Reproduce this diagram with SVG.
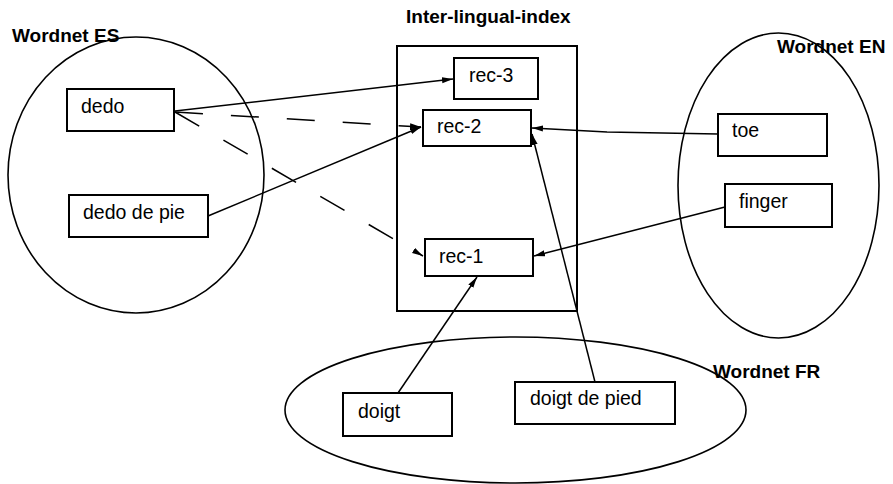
<svg xmlns="http://www.w3.org/2000/svg" width="893" height="484" viewBox="0 0 893 484">
<defs>
<marker id="arr" viewBox="0 0 11 7" refX="11" refY="3.5" markerWidth="11" markerHeight="7" markerUnits="userSpaceOnUse" orient="auto">
<path d="M0,0.5 L11,3.5 L0,6.5 z" fill="#000"/>
</marker>
<style>
.group{fill:none;stroke:#000;stroke-width:1.6}
.box{fill:#fff;stroke:#000;stroke-width:2}
.lbl{font-family:"Liberation Sans",Arial,sans-serif;font-size:19.5px;fill:#000}
.title{font-family:"Liberation Sans",Arial,sans-serif;font-size:19px;font-weight:bold;fill:#000}
.c{fill:none;stroke:#000;stroke-width:1.5;marker-end:url(#arr)}
.d{stroke-dasharray:28 28}
</style>
</defs>
<rect width="893" height="484" fill="#fff"/>
<g id="wordnet-es">
<text class="title" x="12" y="42">Wordnet ES</text>
<ellipse class="group" cx="136" cy="175" rx="128" ry="138"/>
</g>
<g id="wordnet-en">
<text class="title" x="777" y="53">Wordnet EN</text>
<ellipse class="group" cx="778.5" cy="185.5" rx="100.5" ry="152.5"/>
</g>
<g id="wordnet-fr">
<text class="title" x="713" y="378">Wordnet FR</text>
<ellipse class="group" cx="515.5" cy="410" rx="230.5" ry="73"/>
</g>
<g id="ili">
<text class="title" x="406" y="23">Inter-lingual-index</text>
<rect class="group" x="397" y="46" width="180" height="265" style="stroke-width:2"/>
</g>
<g id="connectors">
<line class="c" x1="175" y1="111" x2="453" y2="79"/>
<line class="c d" x1="175" y1="112" x2="421" y2="127"/>
<line class="c d" x1="175" y1="112" x2="423" y2="256"/>
<line class="c" x1="208" y1="216" x2="421" y2="127"/>
<polyline class="c" points="718,134 607,132 532,128"/>
<line class="c" x1="725" y1="207" x2="534" y2="256"/>
<line class="c" x1="595" y1="382" x2="532" y2="134"/>
<line class="c" x1="398" y1="393" x2="477" y2="277"/>
</g>
<g id="dedo"><rect class="box" x="67" y="89" width="107" height="42"/><text class="lbl" x="81" y="113">dedo</text></g>
<g id="dedo-de-pie"><rect class="box" x="69" y="195" width="139" height="42"/><text class="lbl" x="83" y="219">dedo de pie</text></g>
<g id="rec-3"><rect class="box" x="454" y="58" width="84" height="41"/><text class="lbl" x="469" y="82">rec-3</text></g>
<g id="rec-2"><rect class="box" x="423" y="110" width="108" height="36"/><text class="lbl" x="437" y="133">rec-2</text></g>
<g id="rec-1"><rect class="box" x="425" y="239" width="108" height="37"/><text class="lbl" x="439" y="263">rec-1</text></g>
<g id="toe"><rect class="box" x="718" y="114" width="109" height="42"/><text class="lbl" x="732" y="137">toe</text></g>
<g id="finger"><rect class="box" x="725" y="184" width="107" height="43"/><text class="lbl" x="739" y="208">finger</text></g>
<g id="doigt"><rect class="box" x="343" y="393" width="109" height="43"/><text class="lbl" x="358" y="418">doigt</text></g>
<g id="doigt-de-pied"><rect class="box" x="515" y="382" width="160" height="42"/><text class="lbl" x="530" y="405">doigt de pied</text></g>
</svg>
